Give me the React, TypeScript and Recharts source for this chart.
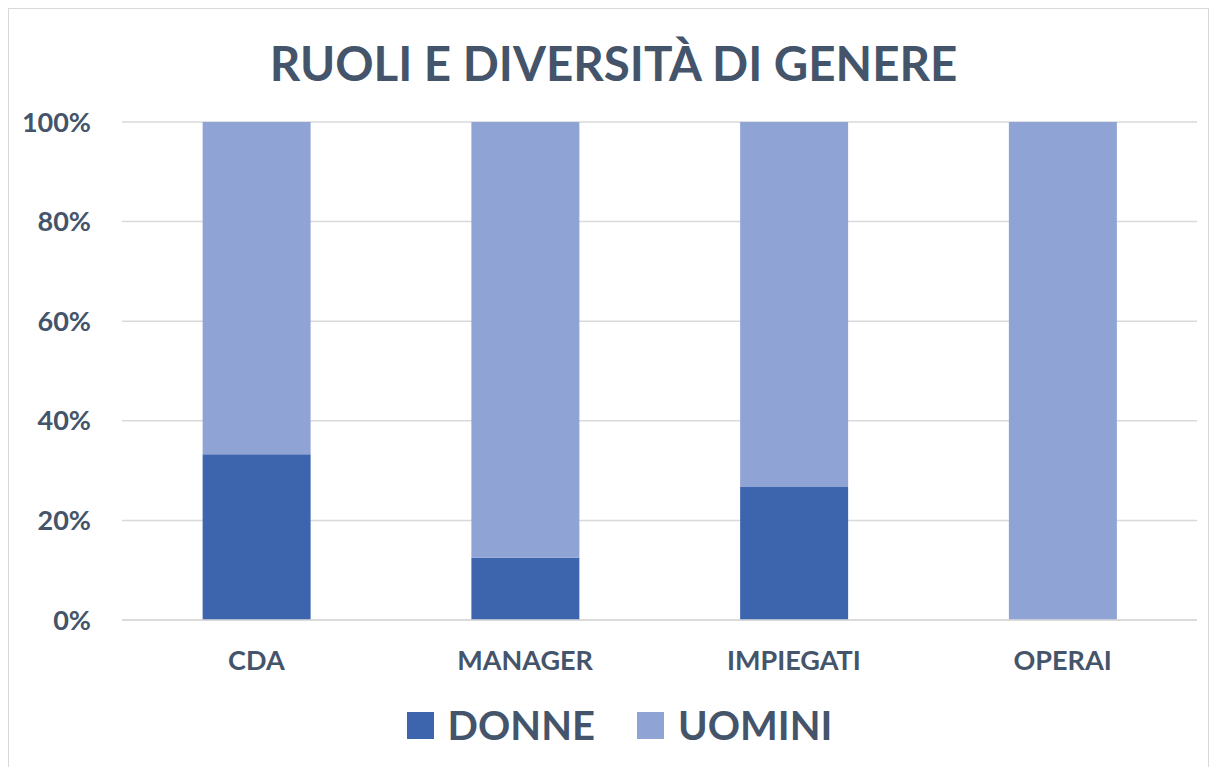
import React from "react";
import { BarChart, Bar, XAxis, YAxis, CartesianGrid } from "recharts";

const categories = ["CDA", "MANAGER", "IMPIEGATI", "OPERAI"];
const donne = [0.333, 0.125, 0.267, 0];
const uomini = [0.667, 0.875, 0.733, 1];
const yTicks = [0, 0.2, 0.4, 0.6, 0.8, 1];
const seriesNames = ["DONNE", "UOMINI"];
const seriesColors = ["#3D65AD", "#8FA4D5"];
const title = "RUOLI E DIVERSITÀ DI GENERE";

const data = categories.map((c, i) => ({ name: c, donne: donne[i], uomini: uomini[i] }));

const TEXT = "#44546A";
const FONT = "Lato, 'Open Sans', sans-serif";

export default function App() {
  return (
    <div
      style={{
        position: "relative",
        width: 1201,
        height: 770,
        boxSizing: "border-box",
        border: "1px solid #D9D9D9",
        background: "#fff",
        fontFamily: FONT,
      }}
    >
      <div
        style={{
          position: "absolute",
          top: 24,
          left: 5,
          width: 1199,
          textAlign: "center",
          fontWeight: 700,
          fontSize: 47.5,
          color: TEXT,
          lineHeight: "60px",
        }}
      >
        {title}
      </div>
      <div style={{ position: "absolute", left: 0, top: 0 }}>
        <BarChart
          width={1199}
          height={740}
          data={data}
          margin={{ top: 113, right: 11, bottom: 69, left: 13 }}
          barCategoryGap="30%"
        >
          <CartesianGrid vertical={false} stroke="#D9D9D9" strokeWidth={1.5} />
          <XAxis
            dataKey="name"
            axisLine={{ stroke: "#D9D9D9", strokeWidth: 1.5 }}
            tickLine={false}
            tickSize={0}
            tickMargin={31}
            height={60}
            tick={{ fill: TEXT, fontSize: 27, fontWeight: 700, fontFamily: FONT }}
          />
          <YAxis
            type="number"
            domain={[0, 1]}
            ticks={yTicks}
            width={100}
            axisLine={false}
            tickLine={false}
            tickSize={0}
            tickMargin={31}
            tickFormatter={(v: number) => `${Math.round(v * 100)}%`}
            tick={{ fill: TEXT, fontSize: 27, fontWeight: 700, fontFamily: FONT }}
          />
          <Bar dataKey="donne" stackId="a" fill={seriesColors[0]} isAnimationActive={false} />
          <Bar dataKey="uomini" stackId="a" fill={seriesColors[1]} isAnimationActive={false} />
        </BarChart>
      </div>
      <div
        style={{
          position: "absolute",
          top: 692,
          left: 11,
          width: 1199,
          display: "flex",
          justifyContent: "center",
          alignItems: "center",
          gap: 42,
        }}
      >
        {seriesNames.map((n, i) => (
          <div key={n} style={{ display: "flex", alignItems: "center", gap: 14 }}>
            <div style={{ width: 27, height: 27, background: seriesColors[i] }} />
            <span style={{ fontSize: 40, fontWeight: 700, color: TEXT, lineHeight: "48px" }}>{n}</span>
          </div>
        ))}
      </div>
    </div>
  );
}
